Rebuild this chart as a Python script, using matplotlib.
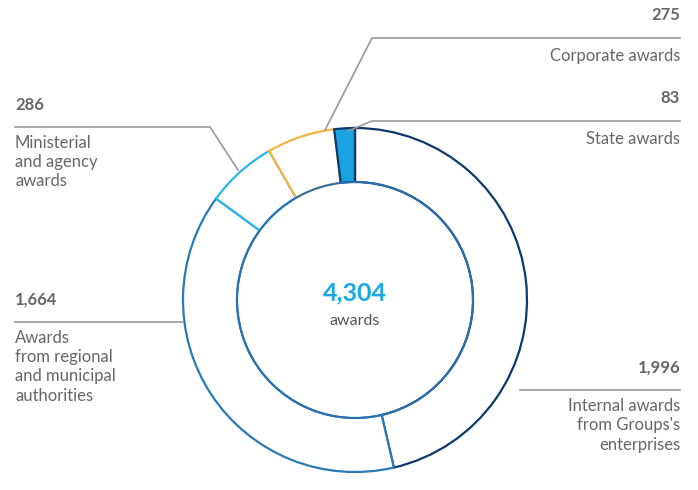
import matplotlib
matplotlib.use("Agg")
import matplotlib.pyplot as plt
from matplotlib.patches import Circle

categories = ["Internal awards\nfrom Groups's\nenterprises", "Awards\nfrom regional\nand municipal\nauthorities",
              "Ministerial\nand agency\nawards", "Corporate awards", "State awards"]
values = [1996, 1664, 286, 275, 83]
value_labels = ["1,996", "1,664", "286", "275", "83"]
total_label = "4,304"

edge_colors = ["#0d3a6b", "#2a7ab8", "#29b5e8", "#f5b342", "#0d3a6b"]
face_colors = ["white", "white", "white", "white", "#1aa3e0"]

H = 490
plt.rcParams["font.family"] = "Lato"
fig = plt.figure(figsize=(6.98, 4.90), dpi=100)
ax = fig.add_axes([0, 0, 1, 1])

cx, cy, R, w = 355, H - 300, 172, 54
wedges, _ = ax.pie(values, center=(cx, cy), radius=R, startangle=90, counterclock=False,
                   wedgeprops=dict(width=w, linewidth=1.6), frame=True)
for wd, ec, fc in zip(wedges, edge_colors, face_colors):
    wd.set_edgecolor(ec); wd.set_facecolor(fc)
ax.set_xlim(0, 698); ax.set_ylim(0, H); ax.set_aspect("equal"); ax.axis("off")
ax.add_patch(Circle((cx, cy), R - w, fill=False, ec="#2a6fae", lw=1.4))

ax.text(cx, H - 293, total_label, ha="center", va="center", fontsize=18, fontweight="bold", color="#1aa9e8")
ax.text(cx, H - 321, "awards", ha="center", va="center", fontsize=11.5, color="#555555")

gc = "#999999"; tc = "#666666"; fs = 12
def line(pts):
    ax.plot([p[0] for p in pts], [H - p[1] for p in pts], color=gc, lw=1.2)

ax.text(680, H - 15, value_labels[3], ha="right", va="center", fontsize=fs, fontweight="bold", color=tc)
line([(680, 38), (372, 38), (325, 130)])
ax.text(680, H - 56, categories[3], ha="right", va="center", fontsize=fs, color=tc)

ax.text(680, H - 98, value_labels[4], ha="right", va="center", fontsize=fs, fontweight="bold", color=tc)
line([(680, 121), (372, 121), (348, 131)])
ax.text(680, H - 139, categories[4], ha="right", va="center", fontsize=fs, color=tc)

ax.text(15, H - 105, value_labels[2], ha="left", va="center", fontsize=fs, fontweight="bold", color=tc)
line([(15, 127), (210, 127), (238, 170)])
ax.text(15, H - 135, categories[2], ha="left", va="top", fontsize=fs, color=tc, linespacing=1.25)

ax.text(15, H - 300, value_labels[1], ha="left", va="center", fontsize=fs, fontweight="bold", color=tc)
line([(15, 322), (183, 322)])
ax.text(15, H - 330, categories[1], ha="left", va="top", fontsize=fs, color=tc, linespacing=1.25)

ax.text(680, H - 368, value_labels[0], ha="right", va="center", fontsize=fs, fontweight="bold", color=tc)
line([(520, 390), (680, 390)])
ax.text(680, H - 398, categories[0], ha="right", va="top", fontsize=fs, color=tc, linespacing=1.25)

fig.savefig("out.png", dpi=100)
